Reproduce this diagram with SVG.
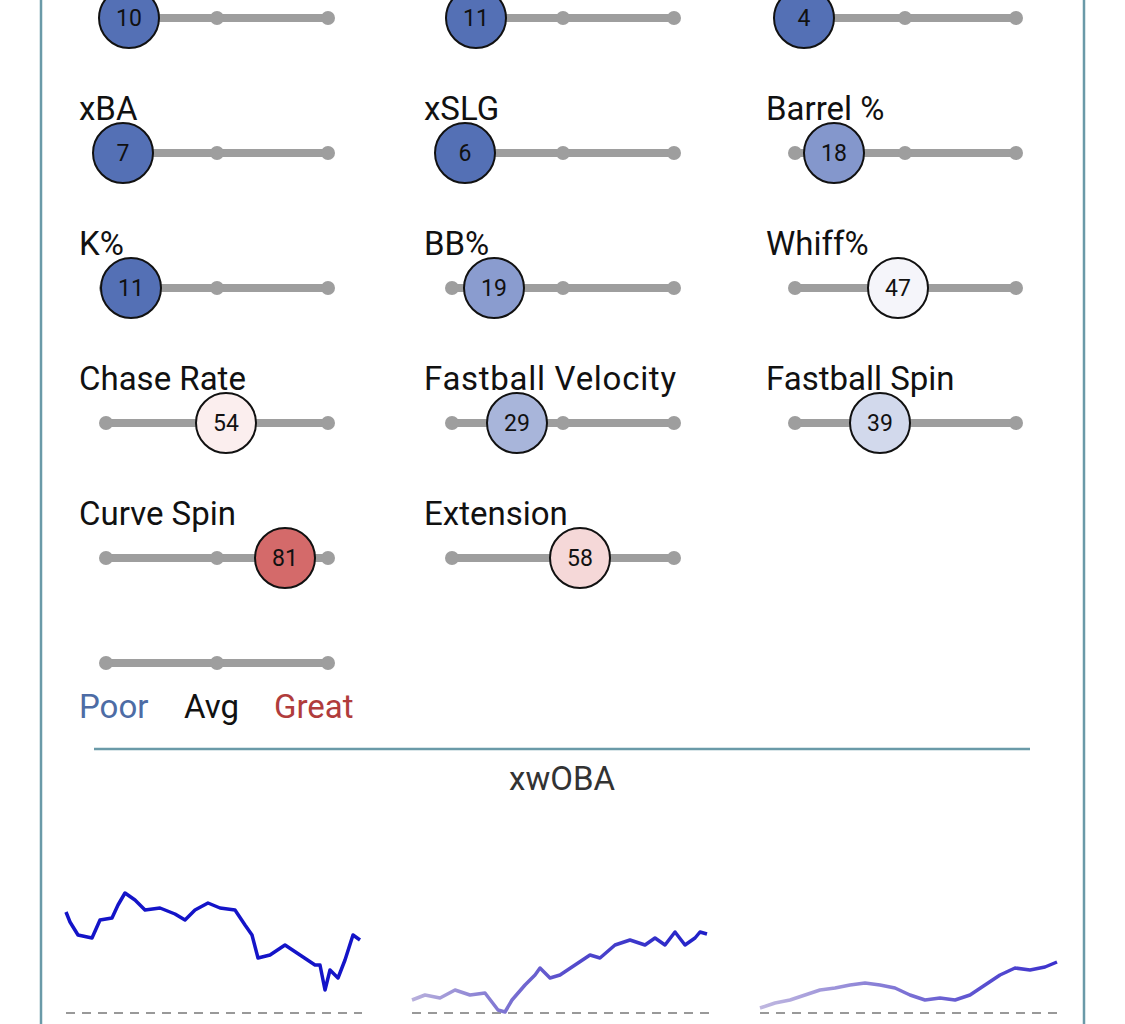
<svg xmlns="http://www.w3.org/2000/svg" width="1125" height="1024" viewBox="0 0 1125 1024">
<defs>
<style>
.lbl{font-family:Roboto,"Liberation Sans",sans-serif;font-size:33px;fill:#111}
.trk{stroke:#9e9e9e;stroke-width:8;stroke-linecap:round}
.tick{fill:#9e9e9e}
.pc{stroke:#111;stroke-width:2}
.num{font-family:Roboto,"Liberation Sans",sans-serif;font-size:23px;fill:#111;text-anchor:middle}
.spark{fill:none;stroke-width:3.5;stroke-linejoin:round}
.base{stroke:#999;stroke-width:2;stroke-dasharray:9 7}
</style>
<linearGradient id="g2" gradientUnits="userSpaceOnUse" x1="412" y1="0" x2="707" y2="0"><stop offset="0" stop-color="#b8b0dc"/><stop offset="0.5" stop-color="#5a50cc"/><stop offset="1" stop-color="#1e1ec8"/></linearGradient>
<linearGradient id="g3" gradientUnits="userSpaceOnUse" x1="760" y1="0" x2="1057" y2="0"><stop offset="0" stop-color="#c0b8e0"/><stop offset="0.5" stop-color="#7a70d4"/><stop offset="1" stop-color="#3a30cc"/></linearGradient>
</defs>
<g id="frame" stroke="#6a9aa8" stroke-width="2.5"><line x1="41" y1="0" x2="41" y2="1024"/><line x1="1084" y1="0" x2="1084" y2="1024"/><line x1="94" y1="749" x2="1030" y2="749"/></g>
<g id="tracks">
<g transform="translate(0,18)"><line class="trk" x1="106" y1="0" x2="328" y2="0"/><line class="trk" x1="452" y1="0" x2="674" y2="0"/><line class="trk" x1="795" y1="0" x2="1016" y2="0"/></g>
<g transform="translate(0,153)"><line class="trk" x1="106" y1="0" x2="328" y2="0"/><line class="trk" x1="452" y1="0" x2="674" y2="0"/><line class="trk" x1="795" y1="0" x2="1016" y2="0"/></g>
<g transform="translate(0,288)"><line class="trk" x1="106" y1="0" x2="328" y2="0"/><line class="trk" x1="452" y1="0" x2="674" y2="0"/><line class="trk" x1="795" y1="0" x2="1016" y2="0"/></g>
<g transform="translate(0,423)"><line class="trk" x1="106" y1="0" x2="328" y2="0"/><line class="trk" x1="452" y1="0" x2="674" y2="0"/><line class="trk" x1="795" y1="0" x2="1016" y2="0"/></g>
<g transform="translate(0,558)"><line class="trk" x1="106" y1="0" x2="328" y2="0"/><line class="trk" x1="452" y1="0" x2="674" y2="0"/></g>
<g transform="translate(0,663)"><line class="trk" x1="106" y1="0" x2="328" y2="0"/></g>
</g>
<g id="ticks" class="tick">
<circle cx="106" cy="18" r="7"/><circle cx="217" cy="18" r="7"/><circle cx="328" cy="18" r="7"/><circle cx="452" cy="18" r="7"/><circle cx="563" cy="18" r="7"/><circle cx="674" cy="18" r="7"/><circle cx="795" cy="18" r="7"/><circle cx="905" cy="18" r="7"/><circle cx="1016" cy="18" r="7"/>
<circle cx="106" cy="153" r="7"/><circle cx="217" cy="153" r="7"/><circle cx="328" cy="153" r="7"/><circle cx="452" cy="153" r="7"/><circle cx="563" cy="153" r="7"/><circle cx="674" cy="153" r="7"/><circle cx="795" cy="153" r="7"/><circle cx="905" cy="153" r="7"/><circle cx="1016" cy="153" r="7"/>
<circle cx="106" cy="288" r="7"/><circle cx="217" cy="288" r="7"/><circle cx="328" cy="288" r="7"/><circle cx="452" cy="288" r="7"/><circle cx="563" cy="288" r="7"/><circle cx="674" cy="288" r="7"/><circle cx="795" cy="288" r="7"/><circle cx="905" cy="288" r="7"/><circle cx="1016" cy="288" r="7"/>
<circle cx="106" cy="423" r="7"/><circle cx="217" cy="423" r="7"/><circle cx="328" cy="423" r="7"/><circle cx="452" cy="423" r="7"/><circle cx="563" cy="423" r="7"/><circle cx="674" cy="423" r="7"/><circle cx="795" cy="423" r="7"/><circle cx="905" cy="423" r="7"/><circle cx="1016" cy="423" r="7"/>
<circle cx="106" cy="558" r="7"/><circle cx="217" cy="558" r="7"/><circle cx="328" cy="558" r="7"/><circle cx="452" cy="558" r="7"/><circle cx="563" cy="558" r="7"/><circle cx="674" cy="558" r="7"/>
<circle cx="106" cy="663" r="7"/><circle cx="217" cy="663" r="7"/><circle cx="328" cy="663" r="7"/>
</g>
<g id="labels" class="lbl">
<text x="79" y="120">xBA</text><text x="424" y="120">xSLG</text><text x="766" y="120">Barrel %</text>
<text x="79" y="255">K%</text><text x="424" y="255">BB%</text><text x="766" y="255">Whiff%</text>
<text x="79" y="390">Chase Rate</text><text x="424" y="390" textLength="252">Fastball Velocity</text><text x="766" y="390">Fastball Spin</text>
<text x="79" y="525">Curve Spin</text><text x="424" y="525">Extension</text>
</g>
<g id="markers">
<g><circle class="pc" cx="129" cy="18" r="30" fill="#5470b5"/><text class="num" x="129" y="26">10</text></g>
<g><circle class="pc" cx="476" cy="18" r="30" fill="#5470b5"/><text class="num" x="476" y="26">11</text></g>
<g><circle class="pc" cx="804" cy="18" r="30" fill="#5470b5"/><text class="num" x="804" y="26">4</text></g>
<g><circle class="pc" cx="123" cy="153" r="30" fill="#5470b5"/><text class="num" x="123" y="161">7</text></g>
<g><circle class="pc" cx="465" cy="153" r="30" fill="#5470b5"/><text class="num" x="465" y="161">6</text></g>
<g><circle class="pc" cx="834" cy="153" r="30" fill="#8497cc"/><text class="num" x="834" y="161">18</text></g>
<g><circle class="pc" cx="131" cy="288" r="30" fill="#5470b5"/><text class="num" x="131" y="296">11</text></g>
<g><circle class="pc" cx="494" cy="288" r="30" fill="#8a9ccf"/><text class="num" x="494" y="296">19</text></g>
<g><circle class="pc" cx="898" cy="288" r="30" fill="#f5f5fa"/><text class="num" x="898" y="296">47</text></g>
<g><circle class="pc" cx="226" cy="423" r="30" fill="#fbeeee"/><text class="num" x="226" y="431">54</text></g>
<g><circle class="pc" cx="517" cy="423" r="30" fill="#a8b5da"/><text class="num" x="517" y="431">29</text></g>
<g><circle class="pc" cx="880" cy="423" r="30" fill="#d2d9ec"/><text class="num" x="880" y="431">39</text></g>
<g><circle class="pc" cx="285" cy="558" r="30" fill="#d46a6a"/><text class="num" x="285" y="566">81</text></g>
<g><circle class="pc" cx="580" cy="558" r="30" fill="#f5d8d8"/><text class="num" x="580" y="566">58</text></g>
</g>
<g id="legend" class="lbl">
<text x="79" y="718" style="fill:#4d6ca5">Poor</text><text x="184" y="718">Avg</text><text x="274" y="718" style="fill:#b03c3c">Great</text>
</g>
<text x="562" y="790" class="lbl" text-anchor="middle" style="fill:#333">xwOBA</text>
<g id="sparks">
<line class="base" x1="66" y1="1013" x2="362" y2="1013"/><line class="base" x1="412" y1="1013" x2="710" y2="1013"/><line class="base" x1="760" y1="1013" x2="1060" y2="1013"/>
<polyline class="spark" stroke="#1414c8" points="66,912 70,922 78,935 92,938 100,920 112,918 118,905 125,893 135,900 145,910 160,908 175,914 185,920 195,910 208,903 220,908 235,910 245,925 252,935 258,958 270,955 285,945 300,955 315,965 320,965 325,990 330,970 338,978 345,960 353,935 360,940"/>
<polyline class="spark" stroke="url(#g2)" points="412,1000 425,995 440,998 455,990 470,995 485,993 498,1010 505,1012 512,1000 525,985 535,975 540,968 550,978 560,975 575,965 590,955 600,958 615,945 630,940 645,945 655,938 665,945 675,932 685,945 695,938 700,932 707,934"/>
<polyline class="spark" stroke="url(#g3)" points="760,1008 775,1003 790,1000 805,995 820,990 835,988 850,985 865,983 880,985 895,988 910,995 925,1000 940,998 955,1000 970,995 985,985 1000,975 1015,968 1030,970 1045,967 1057,962"/>
</g>
</svg>
